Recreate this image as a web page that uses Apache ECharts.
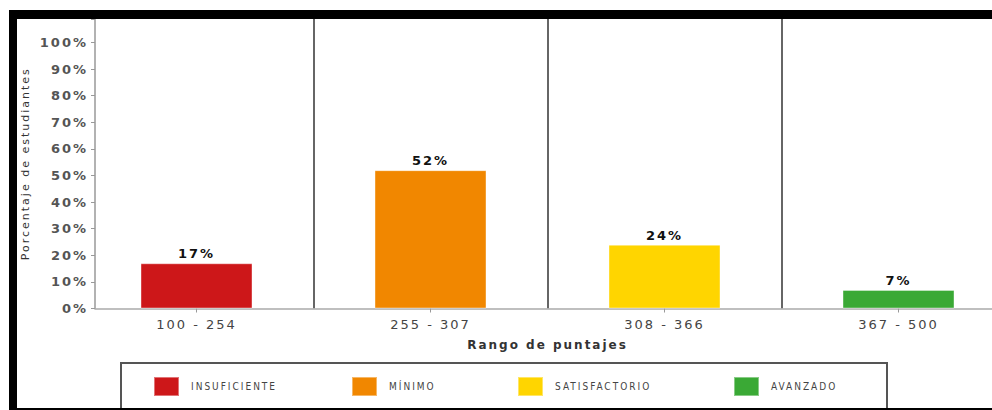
<!DOCTYPE html>
<html>
<head>
<meta charset="utf-8">
<script src="https://cdn.jsdelivr.net/npm/echarts@6/dist/echarts.min.js"></script>
<style>
  html, body { margin: 0; padding: 0; background: #fff; overflow: hidden; width: 992px; height: 410px; }
  #chart { position: absolute; left: 0; top: 0; width: 1040px; height: 410px; letter-spacing: 2px; }
  .legend-box { position: absolute; left: 120px; top: 362px; width: 768px; height: 60px; box-sizing: border-box; border: 2px solid #555; pointer-events: none; }
  .frame { position: absolute; left: 9px; top: 10px; width: 983px; height: 400px; box-sizing: border-box;
           border-top: 9px solid #000; border-left: 8px solid #000; border-bottom: 2px solid #000; pointer-events: none; }
</style>
</head>
<body>
<div id="chart"></div>
<div class="legend-box"></div>
<div class="frame"></div>
<script>
  // data
  const categories = ['100 - 254', '255 - 307', '308 - 366', '367 - 500'];
  const levels = ['INSUFICIENTE', 'MÍNIMO', 'SATISFACTORIO', 'AVANZADO'];
  const values = [17, 52, 24, 7];
  const colors = ['#cd1719', '#f18700', '#ffd500', '#3aa935'];

  // layout
  const legendLeft = [153, 351, 517, 733];
  const yMax = 108.83; // plot top sits above the 100% tick

  // chart div is wider than the window: the last band runs off the right edge
  const chart = echarts.init(document.getElementById('chart'), null, { renderer: 'svg' });

  const option = {
    animation: false,
    textStyle: { fontFamily: 'DejaVu Sans' },
    grid: [
      { left: 95, width: 897, top: 19, height: 289.5 },  // axis lines + y labels
      { left: 79.5, width: 936, top: 19, height: 289.5 } // bars
    ],
    xAxis: [
      {
        gridIndex: 0, type: 'value', min: 0, max: 1,
        axisLine: { show: true, lineStyle: { color: '#aaa', width: 1.5 } },
        axisTick: { show: false }, axisLabel: { show: false }, splitLine: { show: false }
      },
      {
        gridIndex: 1, type: 'category', data: categories,
        axisLine: { show: false },
        axisTick: { show: true, alignWithLabel: true, length: 4, lineStyle: { color: '#999' } },
        axisLabel: { color: '#444', fontSize: 13, margin: 9 },
        splitLine: { show: true, interval: (i) => i > 0, lineStyle: { color: '#333', width: 1.5 } },
        name: 'Rango de puntajes', nameLocation: 'middle', nameGap: 30,
        nameTextStyle: { color: '#333', fontSize: 12, fontWeight: 'bold' }
      }
    ],
    yAxis: [
      {
        gridIndex: 0, type: 'value', min: 0, max: yMax, interval: 10,
        axisLine: { show: true, lineStyle: { color: '#999', width: 1.5 } },
        axisTick: { show: true, length: 4, lineStyle: { color: '#999' } },
        axisLabel: {
          color: '#555', fontSize: 13, fontWeight: 'bold', margin: 7,
          formatter: (v) => (v % 10 === 0 ? v + '%' : '')
        },
        splitLine: { show: false },
        name: 'Porcentaje de estudiantes', nameLocation: 'middle', nameGap: 64,
        nameTextStyle: { color: '#333', fontSize: 11 }
      },
      { gridIndex: 1, type: 'value', min: 0, max: yMax, show: false, splitLine: { show: false } }
    ],
    legend: levels.map((name, i) => ({
      data: [name], left: legendLeft[i], top: 376, padding: 0,
      icon: 'rect', itemWidth: 25, itemHeight: 19,
      textStyle: {
        color: '#444', fontSize: 10,
        fontFamily: '"DejaVu Sans Condensed", "Liberation Sans", sans-serif',
        padding: [0, 0, 0, 7]
      }
    })),
    series: levels.map((name, i) => ({
      name: name,
      type: 'bar',
      stack: 'total',
      xAxisIndex: 1,
      yAxisIndex: 1,
      barWidth: 112,
      data: categories.map((c, j) => (j === i ? values[i] : '-')),
      itemStyle: { color: colors[i], borderColor: 'rgba(255,255,255,0.4)', borderWidth: 1 },
      label: {
        show: true, position: 'top', distance: 3, formatter: '{c}%',
        color: '#111', fontSize: 13, fontWeight: 'bold'
      }
    }))
  };

  chart.setOption(option);
</script>
</body>
</html>
